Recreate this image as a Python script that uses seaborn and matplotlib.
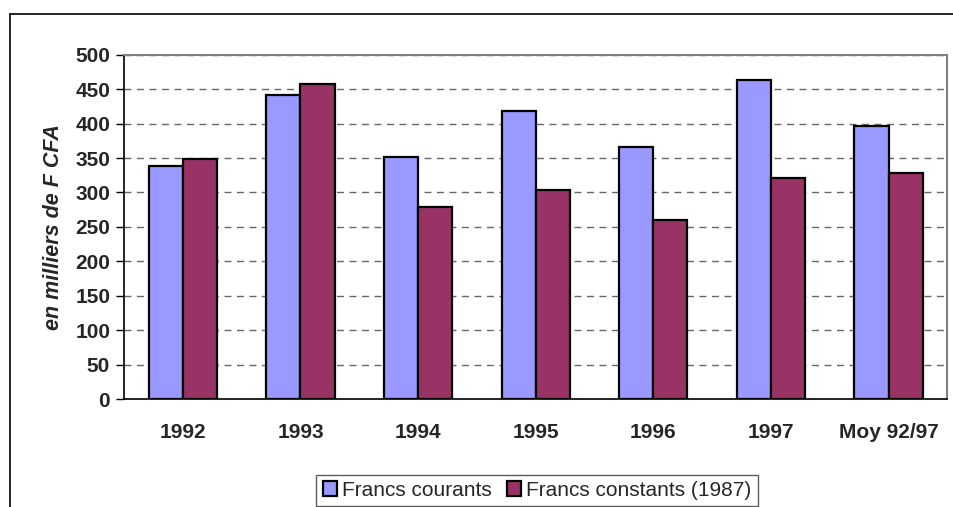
import numpy as np
import pandas as pd
import seaborn as sns
import matplotlib.pyplot as plt
from matplotlib.lines import Line2D
from matplotlib.ticker import FixedLocator

# Values (thousands of F CFA)
years = ['1992', '1993', '1994', '1995', '1996', '1997', 'Moy 92/97']
courants = [338, 442, 352, 419, 366, 463, 397]
constants = [348, 458, 279, 304, 260, 321, 328]
series = ['Francs courants', 'Francs constants (1987)']
colors = ['#9999FF', '#993366']

df = pd.DataFrame({
    'annee': years * 2,
    'valeur': courants + constants,
    'serie': [series[0]] * len(years) + [series[1]] * len(years),
})

sns.set_style('white')
plt.rcParams['font.family'] = ['Liberation Sans', 'DejaVu Sans']

fig = plt.figure(figsize=(9.54, 5.07), dpi=100)
ax = fig.add_axes([0.130, 0.213, 0.863, 0.679])

sns.barplot(data=df, x='annee', y='valeur', hue='serie', order=years,
            hue_order=series, palette=colors, width=0.58, gap=0,
            edgecolor='black', linewidth=1.6, saturation=1, ax=ax, zorder=3)

# dashed grid
ax.set_ylim(0, 500)
ax.set_yticks(np.arange(0, 501, 50))
ax.yaxis.grid(True, linestyle=(0, (5, 4)), color='#666666', linewidth=1, zorder=0)
ax.set_axisbelow(True)

ax.set_xlim(-0.5, len(years) - 0.5)
ax.xaxis.set_minor_locator(FixedLocator(np.arange(-0.5, len(years), 1.0)))
ax.tick_params(axis='x', which='major', length=0, pad=17)
ax.tick_params(axis='x', which='minor', length=6, width=1, color='black', direction='out')
ax.tick_params(axis='y', length=6, width=1, color='black', direction='out', left=True, pad=4)

for lbl in ax.get_xticklabels() + ax.get_yticklabels():
    lbl.set_fontweight('bold')
    lbl.set_fontsize(15)

ax.set_xlabel('')
ax.set_ylabel('en milliers de F CFA', fontsize=15.5, fontweight='bold',
              fontstyle='italic', labelpad=8)

for side in ['left', 'bottom']:
    ax.spines[side].set_color('black')
    ax.spines[side].set_linewidth(1.2)
for side in ['top', 'right']:
    ax.spines[side].set_color('#808080')
    ax.spines[side].set_linewidth(1.5)

ax.get_legend().remove()
handles = [plt.Rectangle((0, 0), 1, 1, facecolor=c, edgecolor='black', linewidth=1.6)
           for c in colors]
leg = fig.legend(handles, series, loc='center', bbox_to_anchor=(0.563, 0.033),
                 ncol=2, frameon=True, fancybox=False, fontsize=15,
                 handlelength=0.7, handleheight=0.7, handletextpad=0.25,
                 columnspacing=0.7, borderpad=0.3)
leg.get_frame().set_edgecolor('#333333')
leg.get_frame().set_linewidth(1)

# outer chart frame (left and top edges visible)
fig.add_artist(Line2D([0.0105, 0.0105], [0.0, 0.972], color='black', linewidth=1.2))
fig.add_artist(Line2D([0.0105, 1.0], [0.972, 0.972], color='black', linewidth=1.2))

fig.savefig('out.png', dpi=100)
